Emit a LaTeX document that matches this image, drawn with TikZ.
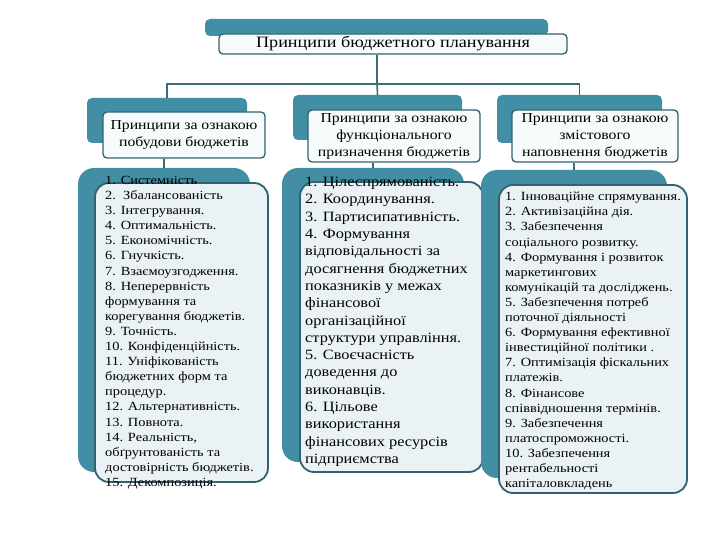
\documentclass[tikz,border=0pt]{standalone}
\usepackage{fontspec}
\setmainfont{Liberation Serif}[FakeStretch=1.15]
\usepackage{tikz}

\definecolor{barteal}{RGB}{66,143,165}
\definecolor{edgeteal}{RGB}{48,98,112}
\definecolor{lineteal}{RGB}{58,108,120}
\definecolor{listfill}{RGB}{234,242,246}
\definecolor{headfill}{RGB}{248,251,252}

\begin{document}
\begin{tikzpicture}[x=1pt, y=-1pt,
    bar/.style={fill=barteal, rounded corners=5pt, inner sep=0pt},
    head/.style={draw=edgeteal, line width=1.3pt, fill=headfill, rounded corners=4pt,
        inner sep=0pt, align=center, font=\fontsize{13.7}{17}\selectfont},
    listbar/.style={fill=barteal, rounded corners=16pt, inner sep=0pt},
    listbox/.style={draw=edgeteal, line width=1.8pt, fill=listfill, rounded corners=14pt, inner sep=0pt},
    items/.style={anchor=north west, inner sep=0pt, align=left},
    conn/.style={draw=lineteal, line width=1.6pt}]
    \useasboundingbox (0,0) rectangle (720,540);

    \node [bar, minimum width=343pt, minimum height=17pt] (tbar) at (376.5,27.5) {};
    \node [head, minimum width=348pt, minimum height=20pt, font=\fontsize{15.8}{18}\selectfont] (title) at (393,44) {Принципи бюджетного планування};

    \node [bar, minimum width=160pt, minimum height=45pt] (b1) at (167,120.5) {};
    \node [head, minimum width=162pt, minimum height=46pt] (h1) at (184,135) {Принципи за ознакою\\побудови бюджетів};
    \node [bar, minimum width=169pt, minimum height=45pt] (b2) at (377.5,117.5) {};
    \node [head, minimum width=172pt, minimum height=52pt] (h2) at (394,136) {Принципи за ознакою\\функціонального\\призначення бюджетів};
    \node [bar, minimum width=165pt, minimum height=48pt] (b3) at (579.5,119) {};
    \node [head, minimum width=166pt, minimum height=52pt] (h3) at (595,136) {Принципи за ознакою\\змістового\\наповнення бюджетів};

    \coordinate (hub) at (377,84);
    \draw [conn] (title.south -| hub) -- (hub);
    \draw [conn] (hub) -| (b1.north);
    \draw [conn] (hub) -- (b2.north);
    \draw [conn] (hub) -| (b3.north);

    \node [listbar, minimum width=172pt, minimum height=304pt] (lb1) at (164,320) {};
    \node [listbox, minimum width=173pt, minimum height=299pt] (lw1) at (181.5,332.5) {};
    \node [items, font=\fontsize{12.5}{15.1}\selectfont] (t1) at (105,176) {1. Системність\\2.\ \ Збалансованість\\3. Інтегрування.\\4. Оптимальність.\\5. Економічність.\\6. Гнучкість.\\7. Взаємоузгодження.\\8. Неперервність\\формування та\\корегування бюджетів.\\9. Точність.\\10. Конфіденційність.\\11. Уніфікованість\\бюджетних форм та\\процедур.\\12. Альтернативність.\\13. Повнота.\\14. Реальність,\\обґрунтованість та\\достовірність бюджетів.\\15. Декомпозиція.};

    \node [listbar, minimum width=182pt, minimum height=294pt] (lb2) at (373,315) {};
    \node [listbox, minimum width=183pt, minimum height=290pt] (lw2) at (391.5,327) {};
    \node [items, font=\fontsize{14.2}{17.3}\selectfont] (t2) at (305,177) {1. Цілеспрямованість.\\2. Координування.\\3. Партисипативність.\\4. Формування\\відповідальності за\\досягнення бюджетних\\показників у межах\\фінансової\\організаційної\\структури управління.\\5. Своєчасність\\доведення до\\виконавців.\\6. Цільове\\використання\\фінансових ресурсів\\підприємства};

    \node [listbar, minimum width=186pt, minimum height=308pt] (lb3) at (574,324) {};
    \node [listbox, minimum width=188pt, minimum height=308pt] (lw3) at (593,339) {};
    \node [items, font=\fontsize{12.5}{15.1}\selectfont] (t3) at (505,192) {1. Інноваційне спрямування.\\2. Активізаційна дія.\\3. Забезпечення\\соціального розвитку.\\4. Формування і розвиток\\маркетингових\\комунікацій та досліджень.\\5. Забезпечення потреб\\поточної діяльності\\6. Формування ефективної\\інвестиційної політики .\\7. Оптимізація фіскальних\\платежів.\\8. Фінансове\\співвідношення термінів.\\9. Забезпечення\\платоспроможності.\\10. Забезпечення\\рентабельності\\капіталовкладень};

    \draw [conn] (h1.south -| lb1.north) -- (lb1.north);
    \draw [conn] (h2.south -| lb2.north) -- (lb2.north);
    \draw [conn] (h3.south -| lb3.north) -- (lb3.north);
\end{tikzpicture}
\end{document}
